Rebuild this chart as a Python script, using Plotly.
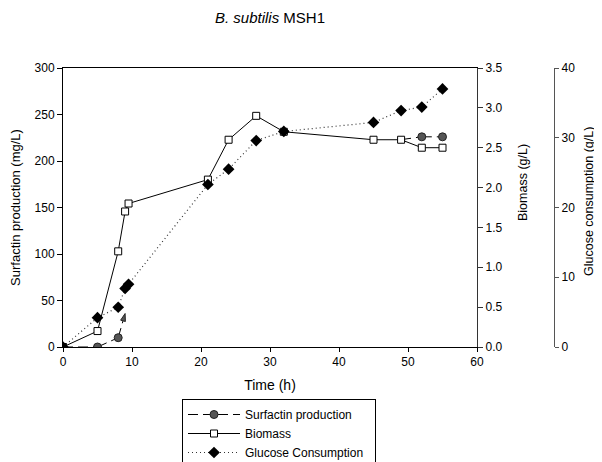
import plotly.graph_objects as go

# ---- data ----
time_h = [0, 5, 8, 9, 9.5, 21, 24, 28, 32, 45, 49, 52, 55]
biomass_gL = [0, 0.2, 1.2, 1.7, 1.8, 2.1, 2.6, 2.9, 2.7, 2.6, 2.6, 2.5, 2.5]
glucose_gL = [0, 4.2, 5.7, 8.4, 9.0, 23.3, 25.5, 29.6, 30.9, 32.2, 33.9, 34.4, 37.0]

surf_time = [0, 5, 8, 9, None, 49, 52, 55]
surfactin_mgL = [0, 0, 10, 36, None, 223, 226, 226]
surf_symbols = ["circle", "circle", "circle", "arrow", "circle", "circle", "circle", "circle"]

x_ticks = [0, 10, 20, 30, 40, 50, 60]
y1_ticks = [0, 50, 100, 150, 200, 250, 300]
y2_ticks = [0, 0.5, 1.0, 1.5, 2.0, 2.5, 3.0, 3.5]
y3_ticks = [0, 10, 20, 30, 40]

FONT = "Liberation Sans, Arial, sans-serif"

fig = go.Figure()

fig.add_trace(go.Scatter(
    x=surf_time, y=surfactin_mgL, name="Surfactin production",
    mode="lines+markers", yaxis="y",
    line=dict(color="black", width=1, dash="10px,5px"),
    marker=dict(symbol=surf_symbols, size=8, color="#555555", angleref="previous",
                line=dict(color="#222222", width=1)),
))
fig.add_trace(go.Scatter(
    x=time_h, y=biomass_gL, name="Biomass",
    mode="lines+markers", yaxis="y2",
    line=dict(color="black", width=1),
    marker=dict(symbol="square", size=7, color="white", line=dict(color="black", width=1)),
))
fig.add_trace(go.Scatter(
    x=time_h, y=glucose_gL, name="Glucose Consumption\u00a0\u00a0",
    mode="lines+markers", yaxis="y3",
    line=dict(color="#333333", width=1.2, dash="1px,3px"),
    marker=dict(symbol="diamond", size=9, color="black", line=dict(color="black", width=0)),
))

# page has an 8px body margin: figure coords = page coords - 8
OFF = 8
FW, FH = 602 - OFF, 462 - OFF
L, R, T, B = 63 - OFF, 554 - OFF, 68 - OFF, 347 - OFF
W = R - L
H = B - T
x_end = (477 - 63) / W


def px_x(page_x):
    return (page_x - 63) / W


def px_y(page_y):
    return (347 - page_y) / H


fig.update_layout(
    width=FW, height=FH,
    margin=dict(l=L, r=FW - R, t=T, b=FH - B, autoexpand=False),
    paper_bgcolor="white", plot_bgcolor="white",
    font=dict(family=FONT, size=12, color="black"),
    showlegend=True,
    title=dict(text="<i>B. subtilis</i> MSH1", font=dict(size=15),
               x=px_x(270), xref="paper", xanchor="center",
               y=1 - (18 - OFF) / FH, yref="container", yanchor="middle"),
    xaxis=dict(domain=[0, x_end], range=[0, 60], tickvals=x_ticks, automargin=False,
               showline=True, linecolor="black", linewidth=1, mirror=True,
               ticks="outside", ticklen=4, tickcolor="black",
               showgrid=False, zeroline=False,
               title=dict(text="Time (h)", font=dict(size=14), standoff=11)),
    yaxis=dict(range=[0, 300], tickvals=y1_ticks, automargin=False,
               showline=True, linecolor="black", linewidth=1,
               ticks="outside", ticklen=5, tickcolor="black",
               showgrid=False, zeroline=False,
               title=dict(text="Surfactin production (mg/L)", font=dict(size=13), standoff=11)),
    yaxis2=dict(range=[0, 3.5], tickvals=y2_ticks, tickformat=".1f", automargin=False,
                overlaying="y", side="right", anchor="x",
                showline=True, linecolor="#333333", linewidth=1.3,
                ticks="outside", ticklen=5, tickcolor="#333333",
                showgrid=False, zeroline=False),
    yaxis3=dict(range=[0, 40], tickvals=y3_ticks, automargin=False,
                overlaying="y", side="right", anchor="free", position=1.0,
                showline=True, linecolor="#555555", linewidth=1.3,
                ticks="outside", ticklen=4, tickcolor="#555555",
                showgrid=False, zeroline=False),
    annotations=[
        dict(text="Biomass (g/L)", textangle=-90, font=dict(size=12.5),
             xref="paper", yref="paper", x=px_x(523), y=px_y(183),
             xanchor="center", yanchor="middle", showarrow=False),
        dict(text="Glucose consumption (g/L)", textangle=-90, font=dict(size=12.5),
             xref="paper", yref="paper", x=px_x(589), y=px_y(202),
             xanchor="center", yanchor="middle", showarrow=False),
    ],
    legend=dict(x=px_x(182), xanchor="left", y=px_y(399), yanchor="top",
                bordercolor="black", borderwidth=1, bgcolor="white",
                font=dict(size=12), tracegroupgap=0, itemwidth=52),
)

fig.write_html("out.html")
